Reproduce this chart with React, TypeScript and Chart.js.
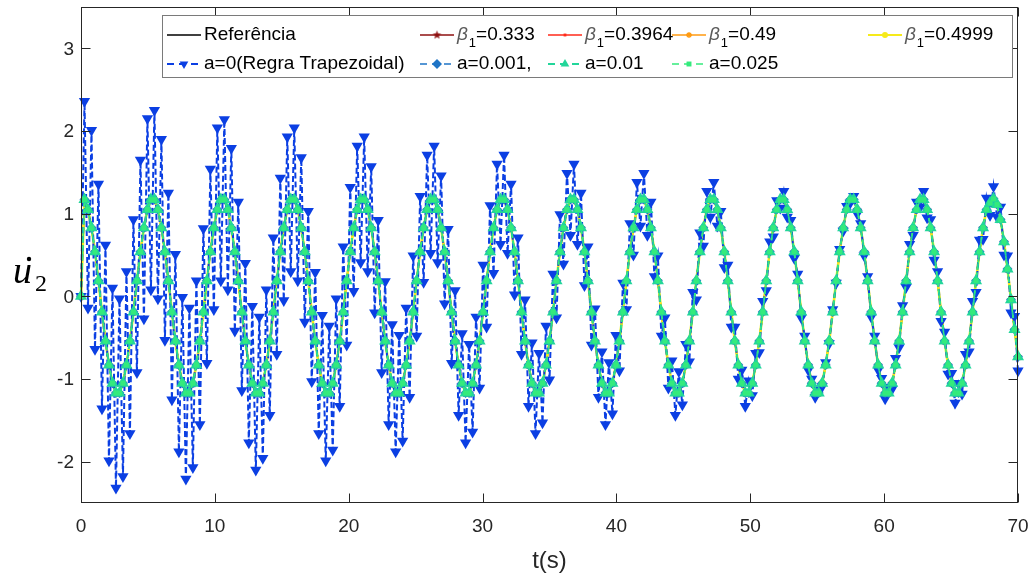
import React, { useEffect, useRef } from "react";
import { Chart, registerables } from "chart.js";
import { drawPoint } from "chart.js/helpers";

Chart.register(...registerables);

// ---------------- data ----------------
const T_END = 70;
const STEP_COUNT = 268; // markers are equally spaced: 268 steps over 70 s

const xTickValues = [0, 10, 20, 30, 40, 50, 60, 70];
const yTickValues = [-2, -1, 0, 1, 2, 3];

// reference / converged solutions
const referenceValues = [
  0, 1.17, 1.05, 0.83, 0.54, 0.19, -0.19, -0.54, -0.83, -1.05, -1.17, -1.17, -1.05, -0.83, -0.54, -0.19, 0.19, 0.54, 0.83, 1.05,
  1.17, 1.17, 1.05, 0.83, 0.54, 0.19, -0.19, -0.54, -0.83, -1.05, -1.17, -1.17, -1.05, -0.83, -0.54, -0.19, 0.19, 0.54, 0.83, 1.05,
  1.17, 1.17, 1.05, 0.83, 0.54, 0.19, -0.19, -0.54, -0.83, -1.05, -1.17, -1.17, -1.05, -0.83, -0.54, -0.19, 0.19, 0.54, 0.83, 1.05,
  1.17, 1.17, 1.05, 0.83, 0.54, 0.19, -0.19, -0.54, -0.83, -1.05, -1.17, -1.17, -1.05, -0.83, -0.54, -0.19, 0.19, 0.54, 0.83, 1.05,
  1.17, 1.17, 1.05, 0.83, 0.54, 0.19, -0.19, -0.54, -0.83, -1.05, -1.17, -1.17, -1.05, -0.83, -0.54, -0.19, 0.19, 0.54, 0.83, 1.05,
  1.17, 1.17, 1.05, 0.83, 0.54, 0.19, -0.19, -0.54, -0.83, -1.05, -1.17, -1.17, -1.05, -0.83, -0.54, -0.19, 0.19, 0.54, 0.83, 1.05,
  1.17, 1.17, 1.05, 0.83, 0.54, 0.19, -0.19, -0.54, -0.83, -1.05, -1.17, -1.17, -1.05, -0.83, -0.54, -0.19, 0.19, 0.54, 0.83, 1.05,
  1.17, 1.17, 1.05, 0.83, 0.54, 0.19, -0.19, -0.54, -0.83, -1.05, -1.17, -1.17, -1.05, -0.83, -0.54, -0.19, 0.19, 0.54, 0.83, 1.05,
  1.17, 1.17, 1.05, 0.83, 0.54, 0.19, -0.19, -0.54, -0.83, -1.05, -1.17, -1.17, -1.05, -0.83, -0.54, -0.19, 0.19, 0.54, 0.83, 1.05,
  1.17, 1.17, 1.05, 0.83, 0.54, 0.19, -0.19, -0.54, -0.83, -1.05, -1.17, -1.17, -1.05, -0.83, -0.54, -0.19, 0.19, 0.54, 0.83, 1.05,
  1.17, 1.17, 1.05, 0.83, 0.54, 0.19, -0.19, -0.54, -0.83, -1.05, -1.17, -1.17, -1.05, -0.83, -0.54, -0.19, 0.19, 0.54, 0.83, 1.05,
  1.17, 1.17, 1.05, 0.83, 0.54, 0.19, -0.19, -0.54, -0.83, -1.05, -1.17, -1.17, -1.05, -0.83, -0.54, -0.19, 0.19, 0.54, 0.83, 1.05,
  1.17, 1.17, 1.05, 0.83, 0.54, 0.19, -0.19, -0.54, -0.83, -1.05, -1.17, -1.17, -1.05, -0.83, -0.54, -0.19, 0.19, 0.54, 0.83, 1.05,
  1.13, 1.18, 1.11, 0.93, 0.66, 0.33, -0.04, -0.40, -0.73,
];

// a = 0 (trapezoidal rule) — spurious alternating oscillation
const trapezoidalValues = [
  0, 2.36, -0.14, 2.01, -0.64, 1.36, -1.36, 0.62, -1.99, 0.10, -2.32, -0.03, -2.18, 0.30, -1.66, 0.93, -0.92, 1.65, -0.27, 2.15,
  0.08, 2.25, -0.03, 1.90, -0.53, 1.25, -1.25, 0.51, -1.88, -0.01, -2.21, -0.14, -2.07, 0.19, -1.55, 0.82, -0.81, 1.54, -0.16, 2.04,
  0.19, 2.14, 0.08, 1.79, -0.42, 1.14, -1.14, 0.40, -1.77, -0.12, -2.10, -0.25, -1.96, 0.08, -1.44, 0.71, -0.70, 1.43, -0.05, 1.93,
  0.30, 2.04, 0.19, 1.68, -0.31, 1.03, -1.03, 0.29, -1.66, -0.23, -1.99, -0.36, -1.86, -0.03, -1.33, 0.60, -0.59, 1.32, 0.06, 1.82,
  0.41, 1.93, 0.30, 1.57, -0.20, 0.92, -0.92, 0.18, -1.55, -0.34, -1.88, -0.47, -1.75, -0.14, -1.22, 0.49, -0.48, 1.21, 0.17, 1.71,
  0.52, 1.82, 0.41, 1.46, -0.09, 0.81, -0.81, 0.07, -1.44, -0.45, -1.77, -0.58, -1.64, -0.25, -1.11, 0.38, -0.37, 1.10, 0.28, 1.60,
  0.63, 1.71, 0.52, 1.36, 0.02, 0.71, -0.70, -0.04, -1.33, -0.56, -1.66, -0.69, -1.53, -0.36, -1.01, 0.27, -0.26, 0.99, 0.39, 1.49,
  0.74, 1.60, 0.63, 1.25, 0.13, 0.60, -0.59, -0.15, -1.22, -0.67, -1.55, -0.80, -1.42, -0.47, -0.90, 0.16, -0.16, 0.88, 0.50, 1.38,
  0.85, 1.49, 0.74, 1.14, 0.24, 0.49, -0.48, -0.26, -1.11, -0.78, -1.44, -0.91, -1.31, -0.58, -0.79, 0.05, -0.04, 0.77, 0.61, 1.27,
  0.96, 1.38, 0.85, 1.03, 0.35, 0.38, -0.37, -0.37, -1.00, -0.89, -1.33, -1.02, -1.20, -0.69, -0.68, -0.06, 0.07, 0.66, 0.72, 1.16,
  1.07, 1.27, 0.96, 0.92, 0.46, 0.27, -0.26, -0.48, -0.89, -1.00, -1.22, -1.13, -1.09, -0.80, -0.57, -0.16, 0.16, 0.57, 0.79, 1.09,
  1.13, 1.21, 1.00, 0.88, 0.49, 0.24, -0.25, -0.48, -0.89, -0.99, -1.24, -1.10, -1.12, -0.75, -0.62, -0.11, 0.11, 0.63, 0.74, 1.14,
  1.08, 1.27, 0.95, 0.93, 0.44, 0.30, -0.30, -0.43, -0.94, -0.93, -1.29, -1.05, -1.18, -0.70, -0.67, -0.06, 0.05, 0.68, 0.69, 1.19,
  0.98, 1.33, 0.96, 1.08, 0.50, 0.49, -0.20, -0.24, -0.90,
];

// the other schemes coincide with the reference at this scale
const beta0333Values = referenceValues;
const beta03964Values = referenceValues;
const beta049Values = referenceValues;
const beta04999Values = referenceValues;
const a0001Values = referenceValues;
const a001Values = referenceValues;
const a0025Values = referenceValues;

const betaLabels = ["0.333", "0.3964", "0.49", "0.4999"];
const alphaLabels = ["a=0(Regra Trapezoidal)", "a=0.001,", "a=0.01", "a=0.025"];
const referenceLabel = "Referência";

// ---------------- helpers ----------------
function toPoints(values: number[]) {
  return values.map((v, i) => ({ x: (i * T_END) / STEP_COUNT, y: v }));
}

function makeStar(color: string, r: number) {
  const c = document.createElement("canvas");
  const s = Math.ceil(r * 2 + 2);
  c.width = s;
  c.height = s;
  const g = c.getContext("2d")!;
  g.fillStyle = color;
  g.beginPath();
  for (let k = 0; k < 10; k++) {
    const rad = k % 2 === 0 ? r : r * 0.42;
    const ang = -Math.PI / 2 + (k * Math.PI) / 5;
    const px = s / 2 + rad * Math.cos(ang);
    const py = s / 2 + rad * Math.sin(ang);
    if (k === 0) g.moveTo(px, py);
    else g.lineTo(px, py);
  }
  g.closePath();
  g.fill();
  return c;
}

const FONT = '"Liberation Sans", Arial, sans-serif';
const AXIS_COLOR = "#262626";

export default function App() {
  const canvasRef = useRef<HTMLCanvasElement | null>(null);

  useEffect(() => {
    const canvas = canvasRef.current;
    if (!canvas) return;
    const starImg = makeStar("#8E1010", 4.5);

    const styles: any = {
      ref: { color: "#000000", width: 1.6, dash: [], pointStyle: "circle", radius: 0 },
      b333: { color: "#8E1010", width: 1.3, dash: [], pointStyle: starImg, radius: 4 },
      b3964: { color: "#FF2A1A", width: 1.3, dash: [], pointStyle: "rect", radius: 2 },
      b49: { color: "#FF9A10", width: 1.3, dash: [], pointStyle: "star", radius: 3 },
      b4999: { color: "#F6EA1A", width: 2.6, dash: [], pointStyle: "circle", radius: 3 },
      a0: { color: "#0B3FE3", width: 2, dash: [6, 3], pointStyle: "triangle", rotation: 180, radius: 6.5 },
      a001: { color: "#1E74C6", width: 1.6, dash: [6, 3], pointStyle: "rectRot", radius: 5 },
      a01: { color: "#22D69A", width: 1.8, dash: [6, 3], pointStyle: "triangle", rotation: 0, radius: 7 },
      a025: { color: "#34EA7C", width: 1.6, dash: [3, 3], pointStyle: "rect", radius: 3.5 },
    };

    const mk = (key: string, label: string, values: number[], order: number) => {
      const s = styles[key];
      return {
        label,
        data: toPoints(values),
        borderColor: s.color,
        backgroundColor: s.color,
        borderWidth: s.width,
        borderDash: s.dash,
        pointStyle: s.pointStyle,
        pointRotation: s.rotation || 0,
        pointRadius: s.radius,
        pointBorderWidth: s.pointStyle === "star" ? 1.2 : 0,
        pointBackgroundColor: s.color,
        pointBorderColor: s.color,
        tension: 0,
        clip: false as any,
        order,
      };
    };

    const datasets = [
      mk("ref", referenceLabel, referenceValues, 9),
      mk("b333", "β1=" + betaLabels[0], beta0333Values, 8),
      mk("b3964", "β1=" + betaLabels[1], beta03964Values, 7),
      mk("b49", "β1=" + betaLabels[2], beta049Values, 6),
      mk("b4999", "β1=" + betaLabels[3], beta04999Values, 5),
      mk("a0", alphaLabels[0], trapezoidalValues, 4),
      mk("a001", alphaLabels[1], a0001Values, 3),
      mk("a01", alphaLabels[2], a001Values, 2),
      mk("a025", alphaLabels[3], a0025Values, 1),
    ];

    const legendLayout = {
      box: { left: 162, top: 15, right: 1012, bottom: 77 },
      rows: [35, 64],
      cols: [167, 420, 548, 672, 868],
      lineLen: 34,
      textGap: 37,
    };

    const legendItems = [
      { key: "ref", row: 0, col: 0, text: referenceLabel, beta: false },
      { key: "b333", row: 0, col: 1, text: betaLabels[0], beta: true },
      { key: "b3964", row: 0, col: 2, text: betaLabels[1], beta: true },
      { key: "b49", row: 0, col: 3, text: betaLabels[2], beta: true },
      { key: "b4999", row: 0, col: 4, text: betaLabels[3], beta: true },
      { key: "a0", row: 1, col: 0, text: alphaLabels[0], beta: false },
      { key: "a001", row: 1, col: 1, text: alphaLabels[1], beta: false },
      { key: "a01", row: 1, col: 2, text: alphaLabels[2], beta: false },
      { key: "a025", row: 1, col: 3, text: alphaLabels[3], beta: false },
    ];

    const decorPlugin = {
      id: "decor",
      afterDatasetsDraw(chart: any) {
        const { ctx, chartArea: a, scales } = chart;
        ctx.save();
        // axes box + inward ticks
        ctx.strokeStyle = AXIS_COLOR;
        ctx.lineWidth = 1;
        ctx.setLineDash([]);
        const L = Math.round(a.left) + 0.5;
        const R = Math.round(a.right) - 0.5;
        const T = Math.round(a.top) + 0.5;
        const B = Math.round(a.bottom) - 0.5;
        ctx.strokeRect(L, T, R - L, B - T);
        ctx.beginPath();
        for (const v of xTickValues) {
          const x = Math.round(scales.x.getPixelForValue(v)) + 0.5;
          ctx.moveTo(x, B);
          ctx.lineTo(x, B - 9);
          ctx.moveTo(x, T);
          ctx.lineTo(x, T + 9);
        }
        for (const v of yTickValues) {
          const y = Math.round(scales.y.getPixelForValue(v)) + 0.5;
          ctx.moveTo(L, y);
          ctx.lineTo(L + 9, y);
          ctx.moveTo(R, y);
          ctx.lineTo(R - 9, y);
        }
        ctx.stroke();

        // tick labels
        ctx.fillStyle = AXIS_COLOR;
        ctx.font = `19px ${FONT}`;
        ctx.textBaseline = "middle";
        ctx.textAlign = "center";
        for (const v of xTickValues) {
          ctx.fillText(String(v), scales.x.getPixelForValue(v), a.bottom + 24);
        }
        ctx.textAlign = "right";
        for (const v of yTickValues) {
          ctx.fillText(String(v), a.left - 7, scales.y.getPixelForValue(v) + 1);
        }

        // legend
        const bx = legendLayout.box;
        ctx.fillStyle = "#ffffff";
        ctx.fillRect(bx.left, bx.top, bx.right - bx.left, bx.bottom - bx.top);
        ctx.strokeStyle = "#7a7a7a";
        ctx.lineWidth = 1;
        ctx.strokeRect(bx.left + 0.5, bx.top + 0.5, bx.right - bx.left, bx.bottom - bx.top);
        for (const it of legendItems) {
          const s = styles[it.key];
          const x0 = legendLayout.cols[it.col];
          const y = legendLayout.rows[it.row];
          ctx.strokeStyle = s.color;
          ctx.fillStyle = s.color;
          ctx.lineWidth = Math.min(s.width, 2);
          ctx.setLineDash(s.dash.length ? [7, 5] : []);
          ctx.beginPath();
          ctx.moveTo(x0, y);
          ctx.lineTo(x0 + legendLayout.lineLen, y);
          ctx.stroke();
          ctx.setLineDash([]);
          if (s.radius > 0) {
            drawPoint(ctx, {
              pointStyle: s.pointStyle,
              radius: Math.min(s.radius, 5),
              rotation: s.rotation || 0,
              borderWidth: s.pointStyle === "star" ? 1.2 : 0,
            } as any, x0 + legendLayout.lineLen / 2, y);
          }
          let tx = x0 + legendLayout.textGap;
          ctx.textBaseline = "middle";
          ctx.textAlign = "left";
          if (it.beta) {
            ctx.font = `italic 19px ${FONT}`;
            ctx.fillStyle = "#5a5a5a";
            ctx.fillText("β", tx, y);
            tx += ctx.measureText("β").width + 1;
            ctx.font = `13px ${FONT}`;
            ctx.fillStyle = "#000";
            ctx.fillText("1", tx, y + 8);
            tx += ctx.measureText("1").width;
            ctx.font = `19px ${FONT}`;
            ctx.fillText("=" + it.text, tx, y);
          } else {
            ctx.font = `19px ${FONT}`;
            ctx.fillStyle = "#000";
            ctx.fillText(it.text, tx, y);
          }
        }

        // axis titles
        ctx.textAlign = "center";
        ctx.textBaseline = "middle";
        ctx.font = `24px ${FONT}`;
        ctx.fillStyle = AXIS_COLOR;
        ctx.fillText("t(s)", (a.left + a.right) / 2, 561);

        ctx.fillStyle = "#000";
        ctx.textAlign = "left";
        ctx.textBaseline = "alphabetic";
        ctx.font = 'italic 38px "Liberation Serif", "DejaVu Serif", serif';
        ctx.fillText("u", 13, 283);
        ctx.beginPath();
        ctx.arc(29, 259, 2.2, 0, Math.PI * 2);
        ctx.fill();
        ctx.font = '24px "Liberation Serif", "DejaVu Serif", serif';
        ctx.fillText("2", 35, 291);
        ctx.restore();
      },
    };

    const chart = new Chart(canvas, {
      type: "line",
      data: { datasets: datasets as any },
      options: {
        responsive: false,
        maintainAspectRatio: false,
        animation: false,
        devicePixelRatio: 1,
        layout: { padding: { top: 5, right: 16, left: 0, bottom: 0 } },
        plugins: { legend: { display: false }, tooltip: { enabled: false } },
        events: [],
        scales: {
          x: {
            type: "linear",
            min: 0,
            max: T_END,
            afterBuildTicks: (scale: any) => {
              scale.ticks = xTickValues.map((v) => ({ value: v }));
            },
            afterFit: (scale: any) => {
              scale.height = 77;
              scale.paddingLeft = 0;
              scale.paddingRight = 0;
            },
            grid: { display: false, drawTicks: false },
            border: { display: false },
            ticks: { display: false },
          },
          y: {
            type: "linear",
            min: -2.5,
            max: 3.5,
            afterBuildTicks: (scale: any) => {
              scale.ticks = yTickValues.map((v) => ({ value: v }));
            },
            afterFit: (scale: any) => {
              scale.width = 81;
              scale.paddingTop = 0;
              scale.paddingBottom = 0;
            },
            grid: { display: false, drawTicks: false },
            border: { display: false },
            ticks: { display: false },
          },
        },
      },
      plugins: [decorPlugin],
    });

    return () => chart.destroy();
  }, []);

  return (
    <div style={{ position: "absolute", left: 0, top: 0, width: 1034, height: 580, background: "#fff" }}>
      <canvas ref={canvasRef} width={1034} height={580} style={{ width: 1034, height: 580, display: "block" }} />
    </div>
  );
}
